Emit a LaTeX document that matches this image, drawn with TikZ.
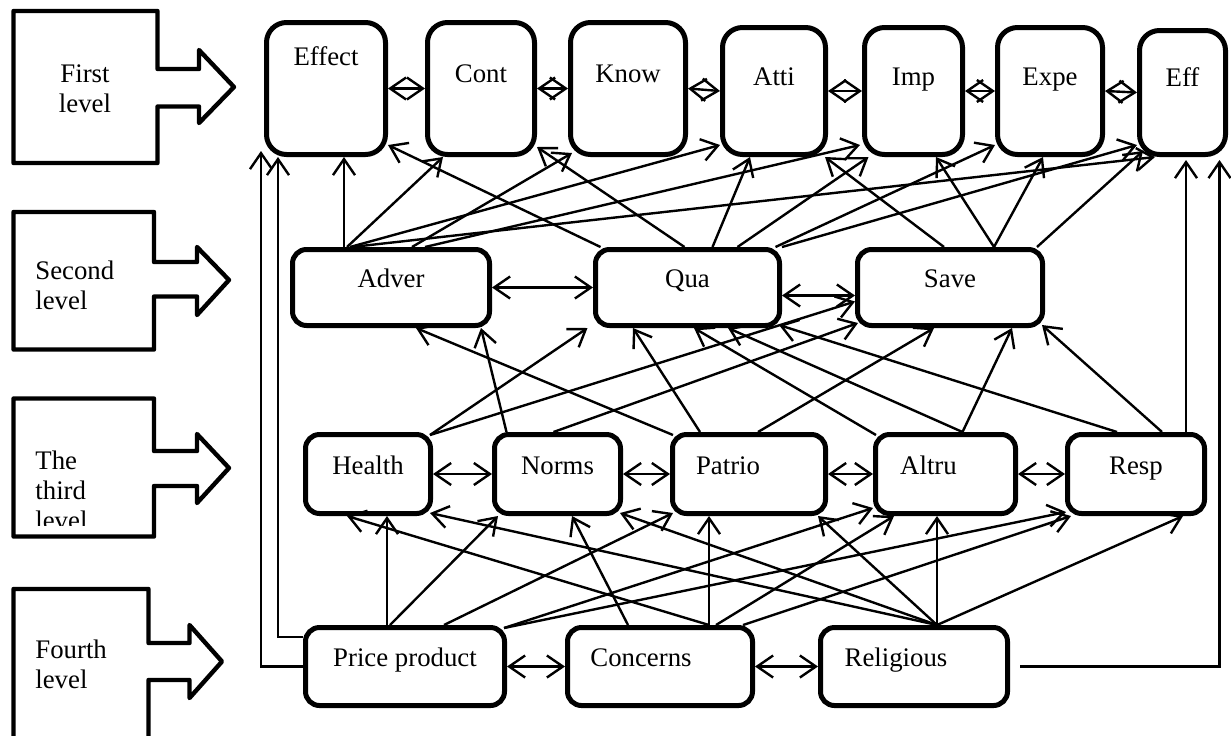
\documentclass[tikz,border=0pt]{standalone}
\usepackage{fontspec}
\setmainfont{Liberation Serif}
\usetikzlibrary{arrows.meta,calc}
\tikzstyle{rt} = [rectangle, rounded corners=10pt, draw=black, line width=2.5pt, text height=8pt, text depth=14pt]
\tikzstyle{r} = [rectangle, rounded corners=7pt, draw=black, line width=2.5pt, text height=8pt, text depth=8pt, minimum height=38pt]
\tikzstyle{lvl} = [line width=2.2pt, line join=round]
\tikzstyle{ar} = [line width=1.2pt, ->]
\tikzstyle{dar} = [line width=1.2pt, <->]
\tikzset{nudge/.style={execute at end node={\hspace*{#1}}}}

\begin{document}
\begin{tikzpicture}[x=0.5pt, y=-0.5pt, >={Straight Barb[length=8pt,width=11pt]}, font=\fontsize{13.4}{15}\selectfont]
\useasboundingbox[fill=white] (0,0) rectangle (1231,735);
% levels on the left
\draw[lvl] (13.5,11) -- (157.5,11) -- (157.5,69) -- (199,69) -- (199,50) -- (234,87) -- (199,123) -- (199,106.5) -- (157.5,106.5) -- (157.5,163) -- (13.5,163) -- cycle;
\draw[lvl] (13.5,212) -- (154,212) -- (154,262) -- (197,262) -- (197,247) -- (229,280) -- (197,315) -- (197,296.5) -- (154,296.5) -- (154,349.5) -- (13.5,349.5) -- cycle;
\draw[lvl] (13.5,398.5) -- (154,398.5) -- (154,451) -- (197,451) -- (197,434) -- (229,468) -- (197,503) -- (197,486) -- (154,486) -- (154,536.5) -- (13.5,536.5) -- cycle;
\draw[lvl] (13.5,760) -- (13.5,589) -- (148.5,589) -- (148.5,643) -- (189.5,643) -- (189.5,625) -- (222,661.5) -- (189.5,698) -- (189.5,680) -- (148.5,680) -- (148.5,760);
\node[align=center, anchor=north, inner sep=0] (lv1) at (85,64) {First\\level};
\node[align=left, anchor=north west, inner sep=0] (lv2) at (35,260) {Second\\level};
\begin{scope}
\clip (20,400) rectangle (150,525);
\node[align=left, anchor=north west, inner sep=0] (lv3) at (35,450) {The\\third\\level};
\end{scope}
\node[align=left, anchor=north west, inner sep=0] (lv4) at (35,639) {Fourth\\level};

% first level
\node[rt, minimum width=59.5pt, minimum height=66pt, text depth=31.5pt] (effect) at (326,88.5) {Effect};
\node[rt, minimum width=53.5pt, minimum height=66pt] (cont) at (481,88.5) {Cont};
\node[rt, minimum width=57.5pt, minimum height=66pt] (know) at (628,88.5) {Know};
\node[rt, minimum width=51.5pt, minimum height=63.5pt] (atti) at (774,91) {Atti};
\node[rt, minimum width=49pt, minimum height=63.5pt] (imp) at (913.5,91) {Imp};
\node[rt, minimum width=52.5pt, minimum height=63.5pt] (expe) at (1050,91) {Expe};
\node[rt, minimum width=43pt, minimum height=62pt] (eff) at (1182.5,92.5) {Eff};
% second level
\node[r, minimum width=98.5pt] (adver) at (391,287.5) {Adver};
\node[r, minimum width=92pt] (qua) at (687.5,287.5) {Qua};
\node[r, minimum width=92.5pt] (save) at (950,287.5) {Save};
% third level
\node[r, minimum width=62.5pt, minimum height=39.5pt] (health) at (368,474) {Health};
\node[r, minimum width=63pt, minimum height=39.5pt] (norms) at (557.5,474) {Norms};
\node[r, minimum width=76.5pt, minimum height=39.5pt, nudge=21pt] (patrio) at (749,474) {Patrio};
\node[r, minimum width=70pt, minimum height=39.5pt, nudge=17pt] (altru) at (945.5,474) {Altru};
\node[r, minimum width=68.5pt, minimum height=39.5pt] (resp) at (1136,474) {Resp};
% fourth level
\node[r, minimum width=99.5pt, minimum height=39pt] (price) at (405,666.5) {Price product};
\node[r, minimum width=92.5pt, minimum height=39pt, nudge=19pt] (concerns) at (660,666.5) {Concerns};
\node[r, minimum width=93.5pt, minimum height=39pt, nudge=18pt] (religious) at (914,666.5) {Religious};

\draw[dar] (effect.east) -- (cont.west);
\draw[dar] (cont.east) -- (know.west);
\draw[dar] (know.east) -- (atti.west);
\draw[dar] (atti.east) -- (imp.west);
\draw[dar] (imp.east) -- (expe.west);
\draw[dar] (expe.east) -- (eff.west);

\draw[ar] ($(adver.north)+(-47,0)$) -- ($(effect.south)+(18,0)$);
\draw[ar] ($(adver.north)+(-44,0)$) -- ($(cont.south)+(-38,0)$);
\draw[ar] ($(adver.north)+(21,0)$) -- ($(know.south west)+(4,-4)$);
\draw[ar] ($(adver.north)+(-41,0)$) -- ($(atti.south west)+(0,-12)$);
\draw[ar] ($(adver.north)+(34,0)$) -- ($(imp.south west)+(-2,-12)$);
\draw[ar] ($(adver.north)+(-39,0)$) -- ($(eff.south west)+(18,0)$);
\draw[ar] ($(qua.north)+(-87,0)$) -- ($(effect.south east)+(0,-12)$);
\draw[ar] ($(qua.north)+(-3,0)$) -- ($(cont.south east)+(0,-10)$);
\draw[ar] ($(qua.north)+(25,0)$) -- ($(atti.south)+(-24,0)$);
\draw[ar] ($(qua.north)+(50,0)$) -- ($(imp.south)+(-45,0)$);
\draw[ar] ($(qua.north)+(88,0)$) -- ($(expe.south west)+(0,-12)$);
\draw[ar] (qua.north east) -- ($(eff.south west)+(0,-12)$);
\draw[ar] ($(save.north)+(-6,0)$) -- ($(atti.south east)+(-3,0)$);
\draw[ar] ($(save.north)+(44,0)$) -- ($(imp.south)+(22.5,0)$);
\draw[ar] ($(save.north)+(44,0)$) -- ($(expe.south)+(-7,0)$);
\draw[ar] ($(save.north)+(87,0)$) -- ($(eff.south west)+(6,-6)$);

\draw[dar] (adver.east) -- (qua.west);
\draw[dar] ($(qua.east)+(0,8)$) -- ($(save.west)+(0,8)$);

\draw[ar] ($(health.north east)+(-3,3)$) -- ($(qua.south)+(-100,0)$);
\draw[ar] ($(health.north east)+(-3,3)$) -- ($(save.west)+(0,14)$);
\draw[ar] ($(norms.north)+(-51,0)$) -- ($(adver.south)+(90,0)$);
\draw[ar] ($(norms.north)+(-4,0)$) -- ($(save.south west)+(3,-5)$);
\draw[ar] ($(patrio.north west)+(3,3)$) -- ($(adver.south)+(25,0)$);
\draw[ar] ($(patrio.north)+(-49,0)$) -- ($(qua.south)+(-54.5,0)$);
\draw[ar] ($(patrio.north)+(9,0)$) -- ($(save.south)+(-16,0)$);
\draw[ar] ($(altru.north west)+(3,3)$) -- ($(qua.south)+(6.5,0)$);
\draw[ar] ($(altru.north)+(17,0)$) -- ($(qua.south)+(40.5,0)$);
\draw[ar] ($(altru.north)+(17,0)$) -- ($(save.south)+(62,0)$);
\draw[ar] ($(resp.north)+(-19,0)$) -- ($(qua.south east)+(-3,-3)$);
\draw[ar] ($(resp.north)+(26,0)$) -- ($(save.south east)+(-3,-3)$);
\draw[ar] ($(resp.north)+(50,0)$) -- ($(eff.south)+(3.5,3)$);

\draw[dar] (health.east) -- (norms.west);
\draw[dar] (norms.east) -- (patrio.west);
\draw[dar] (patrio.east) -- (altru.west);
\draw[dar] (altru.east) -- (resp.west);

\draw[ar] ($(price.north)+(-18,0)$) -- ($(health.south)+(19,0)$);
\draw[ar] ($(price.north)+(-15,0)$) -- ($(norms.south west)+(6,0)$);
\draw[ar] ($(price.north)+(39,0)$) -- ($(patrio.south west)+(3,-3)$);
\draw[ar] ($(price.north east)+(-3,3)$) -- ($(altru.south west)+(0,-8)$);
\draw[ar] ($(price.north east)+(-3,3)$) -- ($(resp.south west)+(1,-4)$);
\draw[ar] ($(concerns.north)+(-32,0)$) -- ($(norms.south)+(14.5,0)$);
\draw[ar] ($(concerns.north)+(49,0)$) -- ($(health.south)+(-21,0)$);
\draw[ar] ($(concerns.north)+(49,0)$) -- ($(patrio.south)+(-40,0)$);
\draw[ar] ($(concerns.north)+(56,0)$) -- ($(altru.south)+(-51.5,0)$);
\draw[ar] ($(concerns.north)+(83,0)$) -- ($(resp.south west)+(6,0)$);
\draw[ar] ($(religious.north)+(23,0)$) -- ($(health.south east)+(-3,-3)$);
\draw[ar] ($(religious.north)+(23,0)$) -- ($(norms.south east)+(-3,-3)$);
\draw[ar] ($(religious.north)+(23,0)$) -- ($(patrio.south east)+(-10,0)$);
\draw[ar] ($(religious.north)+(23,0)$) -- ($(altru.south)+(-8.5,0)$);
\draw[ar] ($(religious.north)+(23,0)$) -- ($(resp.south)+(47,0)$);

\draw[dar] (price.east) -- (concerns.west);
\draw[dar] (concerns.east) -- (religious.west);

\draw[ar] (price.west) -| ($(effect.south west)+(-3,-6)$);
\draw[ar] ($(price.west)+(0,-29.5)$) -| ($(effect.south west)+(14,0)$);
\draw[ar] ($(religious.east)+(10,0)$) -| ($(eff.south)+(37,3)$);
\end{tikzpicture}
\end{document}
